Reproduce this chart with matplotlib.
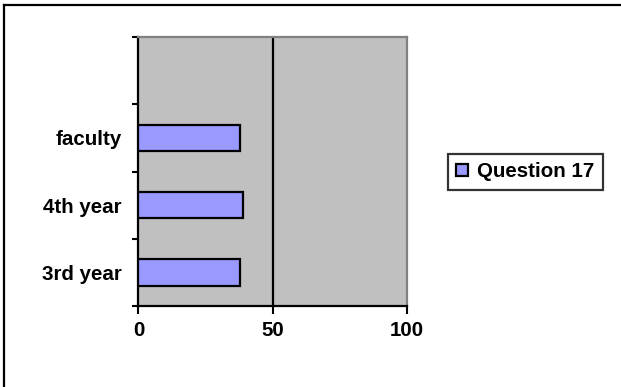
import matplotlib.pyplot as plt
from matplotlib.lines import Line2D
import numpy as np

# survey answers, bottom to top
groups = ['3rd year', '4th year', 'faculty']
question_17 = [38, 39, 38]
n_slots = 4          # one empty category slot above "faculty"
x_ticks = [0, 50, 100]
series_name = 'Question 17'

plt.rcParams['font.family'] = ['Liberation Sans', 'DejaVu Sans']
plt.rcParams['font.weight'] = 'bold'
FS = 14.8

fig = plt.figure(figsize=(6.21, 3.87), dpi=100)
ax = fig.add_axes([0.223, 0.210, 0.432, 0.6936])
ax.set_facecolor('#C0C0C0')

y = np.arange(len(groups))
ax.barh(y, question_17, height=0.4, color='#9999FF', edgecolor='black',
        linewidth=1.6, label=series_name, zorder=3)

ax.axvline(50, color='black', linewidth=1.6, zorder=2)

ax.set_xlim(0, 100)
ax.set_ylim(-0.5, n_slots - 0.5)

# category boundaries get the tick marks, names sit in between
ax.set_yticks(np.arange(n_slots + 1) - 0.5)
ax.set_yticklabels([])
ax.set_yticks(y, minor=True)
ax.set_yticklabels(groups, minor=True, fontsize=FS, fontweight='bold')
ax.tick_params(axis='y', which='minor', length=0, pad=12)
ax.tick_params(axis='y', which='major', length=4.5, width=1.5, direction='out')

ax.set_xticks(x_ticks)
ax.set_xticklabels([str(v) for v in x_ticks], fontsize=FS, fontweight='bold')
ax.tick_params(axis='x', length=5.5, width=1.5, direction='out', pad=5.5)

for side in ('left', 'bottom'):
    ax.spines[side].set_color('black')
    ax.spines[side].set_linewidth(1.6)
for side in ('top', 'right'):
    ax.spines[side].set_color('#808080')
    ax.spines[side].set_linewidth(1.6)

leg = fig.legend(loc='center left', bbox_to_anchor=(0.721, 0.5563),
                 fontsize=FS, frameon=True, fancybox=False,
                 handlelength=0.55, handleheight=0.55, handletextpad=0.45,
                 borderpad=0.42, borderaxespad=0)
leg.get_frame().set_edgecolor('black')
leg.get_frame().set_linewidth(1.6)
for t in leg.get_texts():
    t.set_fontweight('bold')

# chart area border (top and left edges)
fig.add_artist(Line2D([4 / 621, 4 / 621], [0, 1 - 5 / 387], color='black',
                      linewidth=1.6, transform=fig.transFigure))
fig.add_artist(Line2D([4 / 621, 1], [1 - 5 / 387, 1 - 5 / 387], color='black',
                      linewidth=1.6, transform=fig.transFigure))

fig.savefig('out.png', dpi=100)
